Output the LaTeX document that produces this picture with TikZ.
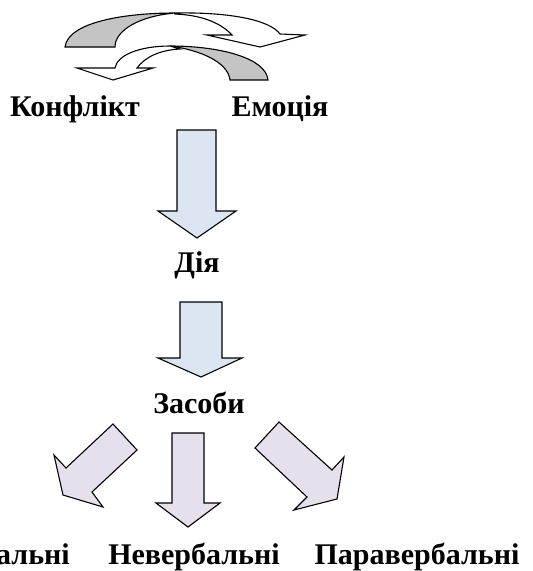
\documentclass[tikz,border=0pt]{standalone}
\usepackage{fontspec}
\setmainfont{Liberation Serif}
\definecolor{arrblue}{HTML}{DCE6F2}
\definecolor{arrlav}{HTML}{E5E0EC}
\definecolor{arrgray}{HTML}{C4C4C4}
\begin{document}
\begin{tikzpicture}[x=1pt,y=-1pt,
  outl/.style={draw=black,line width=1.1pt,line join=miter},
  graypart/.style={outl,fill=arrgray},
  whitepart/.style={outl,fill=white},
  bluearrow/.style={outl,fill=arrblue},
  lavarrow/.style={outl,fill=arrlav},
  lbl/.style={inner sep=0pt,anchor=base,font=\bfseries\fontsize{30}{32}\selectfont}]
\useasboundingbox (0,0) rectangle (533,571);
% upper curved arrow
\path[graypart] (65,47) .. controls (68,22) and (125,13) .. (175,13)
  .. controls (140,16) and (115,30) .. (115,47) -- cycle;
\path[whitepart] (175,13) .. controls (230,12) and (270,20) .. (280,34)
  -- (305,35) -- (260,47) -- (207,35) -- (232,35)
  .. controls (220,22) and (200,15) .. (175,14) -- cycle;
% lower curved arrow
\path[graypart] (268,80) .. controls (266,58) and (220,46) .. (170,46)
  .. controls (200,50) and (228,62) .. (230,80) -- cycle;
\path[whitepart] (170,46) .. controls (140,46) and (117,55) .. (115,68)
  -- (77,68) -- (113,80) -- (153,68) -- (137,68)
  .. controls (145,57) and (160,50) .. (180,49) -- cycle;
% labels
\node[lbl] (konf) at (75,116) {Конфлікт};
\node[lbl] (emo) at (280,116) {Емоція};
\node[lbl] (dia) at (197,272) {Дія};
\node[lbl] (zas) at (199,413) {Засоби};
\node[lbl,anchor=base east] (verb) at (70,564) {Вербальні};
\node[lbl] (never) at (194,564) {Невербальні};
\node[lbl] (para) at (417,564) {Паравербальні};
% down arrows
\path[bluearrow] (177,130) -- (216,130) -- (216,211) -- (236,211) -- (197,238)
  -- (158,211) -- (177,211) -- cycle;
\path[bluearrow] (180,302) -- (222,302) -- (222,358) -- (242,358) -- (201,377)
  -- (158,358) -- (180,358) -- cycle;
% bottom arrows
\path[lavarrow] (113,424) -- (137,450) -- (92,492) -- (103,507) -- (63,495)
  -- (54,455) -- (66,468) -- cycle;
\path[lavarrow] (172,433) -- (204,433) -- (204,503) -- (220,503) -- (188,527)
  -- (156,503) -- (172,503) -- cycle;
\path[lavarrow] (279,422) -- (332,470) -- (344,457) -- (337,499) -- (294,510)
  -- (307,497) -- (255,448) -- cycle;
\end{tikzpicture}
\end{document}
